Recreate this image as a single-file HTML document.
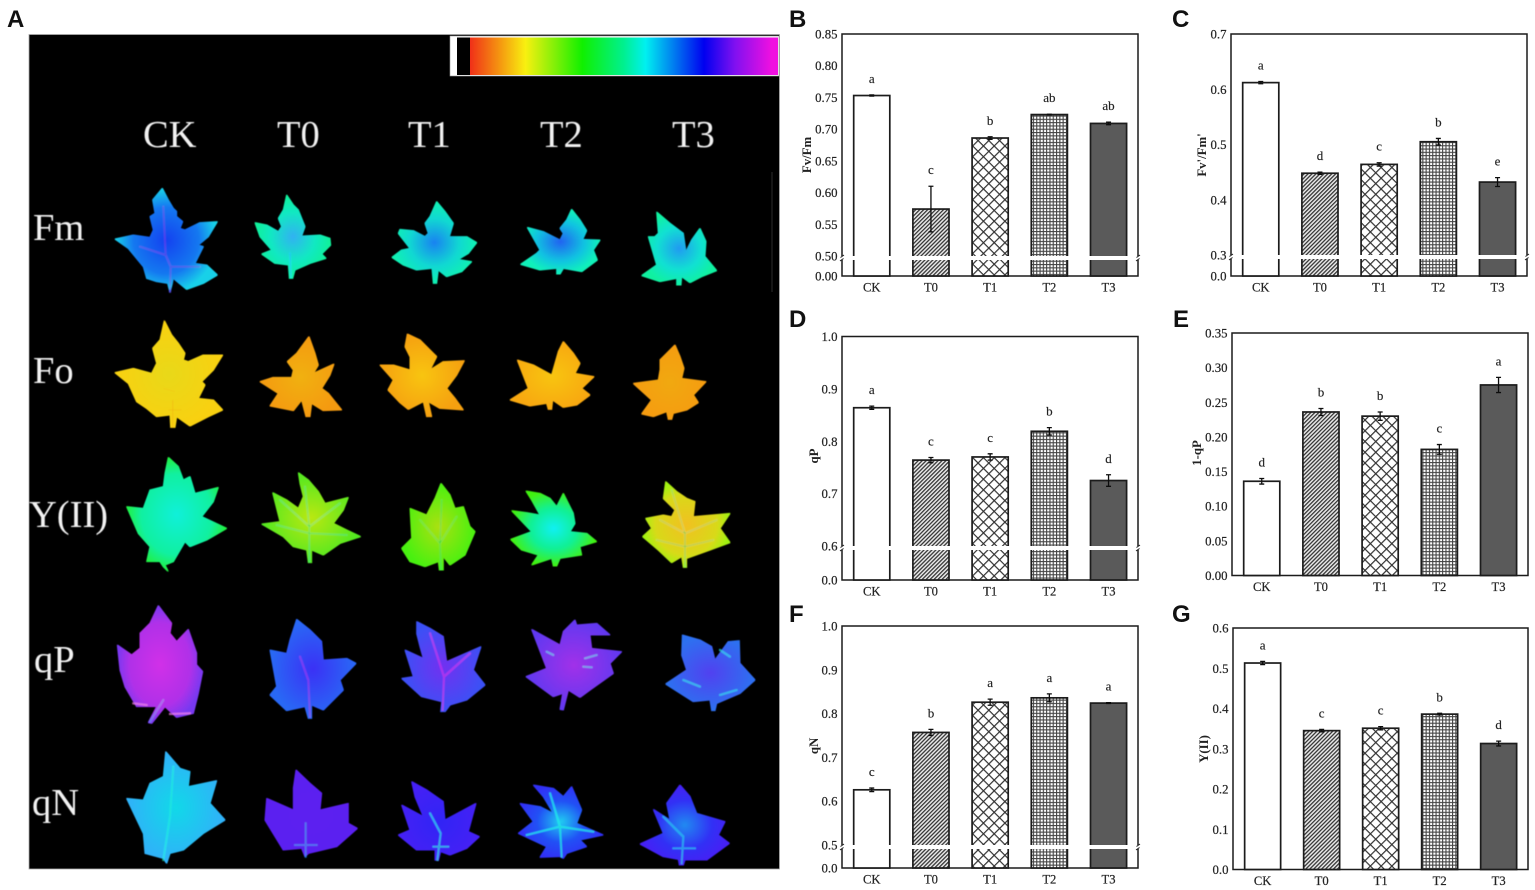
<!DOCTYPE html>
<html lang="en">
<head>
<meta charset="utf-8">
<title>Chlorophyll fluorescence images and parameters</title>
<style>
html,body{margin:0;padding:0;background:#fff;width:1535px;height:890px;overflow:hidden}
svg{display:block}
text{font-family:"Liberation Serif",serif}
.plabel{font-family:"Liberation Sans",sans-serif;font-weight:700;font-size:24px;fill:#111}
.ilabel{font-size:38.5px;fill:#f2f2f2;filter:url(#soft)}
.tick{font-size:12.8px;fill:#222;stroke:#222;stroke-width:.2}
.cat{font-size:12.6px;fill:#222;text-anchor:middle;stroke:#222;stroke-width:.2}
.sig{font-size:13px;fill:#222;text-anchor:middle;stroke:#222;stroke-width:.15}
.ytitle{font-size:12.8px;font-weight:700;fill:#222;text-anchor:middle}
.vein{fill:none;stroke-width:4;stroke-linecap:round;stroke-opacity:.7}
</style>
</head>
<body>
<svg id="figure" xmlns="http://www.w3.org/2000/svg" width="1535" height="890" viewBox="0 0 1535 890">
<defs>
<filter id="soft" x="-10%" y="-10%" width="120%" height="120%"><feGaussianBlur stdDeviation="0.45"/></filter>
<filter id="soft2" x="-2%" y="-2%" width="104%" height="104%"><feGaussianBlur stdDeviation="0.3"/></filter>
<filter id="leaf" x="-2%" y="-2%" width="104%" height="104%" color-interpolation-filters="sRGB">
<feMorphology in="SourceGraphic" operator="dilate" radius="0.6" result="fat"/>
<feGaussianBlur in="fat" stdDeviation="0.55"/>
</filter>
<pattern id="hatch-t0" patternUnits="userSpaceOnUse" width="2.8" height="2.8" patternTransform="rotate(-45)"><rect width="2.8" height="2.8" fill="#e8e8e8"/><rect width="2.8" height="1.25" fill="#333"/></pattern>
<pattern id="hatch-t1" patternUnits="userSpaceOnUse" width="7.6" height="7.6" patternTransform="rotate(45)"><rect width="7.6" height="7.6" fill="#fff"/><rect width="7.6" height="1.2" fill="#333"/><rect width="1.2" height="7.6" fill="#333"/></pattern>
<pattern id="hatch-t2" patternUnits="userSpaceOnUse" width="3.3" height="3.3"><rect width="3.3" height="3.3" fill="#fff"/><rect width="3.3" height="1.1" fill="#444"/><rect width="1.1" height="3.3" fill="#444"/></pattern>
<linearGradient id="colorbar-gradient" x1="0" x2="1" y1="0" y2="0">
<stop offset="0" stop-color="#f03018"/><stop offset="0.1" stop-color="#f59a10"/><stop offset="0.18" stop-color="#f8f010"/><stop offset="0.365" stop-color="#10f000"/><stop offset="0.5" stop-color="#00f090"/><stop offset="0.57" stop-color="#00f0f0"/><stop offset="0.76" stop-color="#0000f0"/><stop offset="0.86" stop-color="#8010f0"/><stop offset="0.98" stop-color="#f010e0"/><stop offset="1" stop-color="#f010e0"/>
</linearGradient>
<radialGradient id="g-fm-ck"><stop offset="0" stop-color="#1440f0"/><stop offset="0.65" stop-color="#1478f0"/><stop offset="1" stop-color="#18d0e8"/></radialGradient>
<radialGradient id="g-fm-t0"><stop offset="0" stop-color="#30b0f0"/><stop offset="0.6" stop-color="#10e8c0"/><stop offset="1" stop-color="#10f098"/></radialGradient>
<radialGradient id="g-fm-t1"><stop offset="0" stop-color="#1880f0"/><stop offset="0.6" stop-color="#10d8d0"/><stop offset="1" stop-color="#10f0b0"/></radialGradient>
<radialGradient id="g-fm-t2"><stop offset="0" stop-color="#2060f0"/><stop offset="0.6" stop-color="#10c0e0"/><stop offset="1" stop-color="#10f0b8"/></radialGradient>
<radialGradient id="g-fm-t3"><stop offset="0" stop-color="#2098f0"/><stop offset="0.6" stop-color="#10e0d0"/><stop offset="1" stop-color="#10f0a0"/></radialGradient>
<radialGradient id="g-fo-ck"><stop offset="0" stop-color="#e8d818"/><stop offset="1" stop-color="#f8d010"/></radialGradient>
<radialGradient id="g-fo-t0"><stop offset="0" stop-color="#f0b010"/><stop offset="1" stop-color="#f49a10"/></radialGradient>
<radialGradient id="g-fo-t1"><stop offset="0" stop-color="#f8c410"/><stop offset="1" stop-color="#f5a010"/></radialGradient>
<radialGradient id="g-fo-t2"><stop offset="0" stop-color="#f8c410"/><stop offset="1" stop-color="#f8a810"/></radialGradient>
<radialGradient id="g-fo-t3"><stop offset="0" stop-color="#f0a810"/><stop offset="1" stop-color="#f59c10"/></radialGradient>
<radialGradient id="g-y-ck"><stop offset="0" stop-color="#10f0d8"/><stop offset="0.7" stop-color="#10f0a0"/><stop offset="1" stop-color="#20f040"/></radialGradient>
<radialGradient id="g-y-t0"><stop offset="0" stop-color="#b8e810"/><stop offset="1" stop-color="#50e820"/></radialGradient>
<radialGradient id="g-y-t1"><stop offset="0" stop-color="#a8e010"/><stop offset="1" stop-color="#48f010"/></radialGradient>
<radialGradient id="g-y-t2"><stop offset="0" stop-color="#10f0f0"/><stop offset="0.55" stop-color="#10f090"/><stop offset="1" stop-color="#40f010"/></radialGradient>
<radialGradient id="g-y-t3"><stop offset="0" stop-color="#f0c020"/><stop offset="0.7" stop-color="#d8d818"/><stop offset="1" stop-color="#a0f010"/></radialGradient>
<radialGradient id="g-qp-ck"><stop offset="0" stop-color="#d030e8"/><stop offset="0.7" stop-color="#b030e8"/><stop offset="1" stop-color="#7838f0"/></radialGradient>
<radialGradient id="g-qp-t0"><stop offset="0" stop-color="#3a30f5"/><stop offset="1" stop-color="#2868f5"/></radialGradient>
<radialGradient id="g-qp-t1"><stop offset="0" stop-color="#7030f0"/><stop offset="1" stop-color="#3a50f5"/></radialGradient>
<radialGradient id="g-qp-t2"><stop offset="0" stop-color="#a030e8"/><stop offset="1" stop-color="#6038f0"/></radialGradient>
<radialGradient id="g-qp-t3"><stop offset="0" stop-color="#5040f0"/><stop offset="1" stop-color="#2c70f0"/></radialGradient>
<radialGradient id="g-qn-ck"><stop offset="0" stop-color="#10d8e8"/><stop offset="1" stop-color="#30b0f8"/></radialGradient>
<radialGradient id="g-qn-t0"><stop offset="0" stop-color="#5c20f0"/><stop offset="1" stop-color="#5a20f0"/></radialGradient>
<radialGradient id="g-qn-t1"><stop offset="0" stop-color="#3024f5"/><stop offset="1" stop-color="#4420f5"/></radialGradient>
<radialGradient id="g-qn-t2"><stop offset="0" stop-color="#20c8f0"/><stop offset="0.55" stop-color="#2050f5"/><stop offset="1" stop-color="#3030f5"/></radialGradient>
<radialGradient id="g-qn-t3"><stop offset="0" stop-color="#2088f0"/><stop offset="0.6" stop-color="#3030f5"/><stop offset="1" stop-color="#4420f5"/></radialGradient>
</defs>

<rect width="1535" height="890" fill="#fff"/>

<g id="panel-a">
<rect x="29" y="34.5" width="750.5" height="834.5" fill="#000" stroke="#aaa" stroke-width="0.8"/>
<rect x="450" y="36" width="329" height="40" fill="#fff" stroke="#999" stroke-width="0.6"/>
<rect x="457" y="37.5" width="14" height="37.5" fill="#000"/>
<rect x="470" y="37.5" width="308" height="37.5" fill="url(#colorbar-gradient)"/>
<rect x="771.5" y="172" width="1" height="120" fill="#2c2c2c"/>

<g>
<text class="ilabel" x="143" y="147">CK</text>
<text class="ilabel" x="277" y="147">T0</text>
<text class="ilabel" x="408" y="147">T1</text>
<text class="ilabel" x="540" y="147">T2</text>
<text class="ilabel" x="672" y="147">T3</text>
</g>
<g>
<text class="ilabel" x="33" y="240">Fm</text>
<text class="ilabel" x="33" y="383">Fo</text>
<text class="ilabel" x="29" y="527">Y(II)</text>
<text class="ilabel" x="34" y="672">qP</text>
<text class="ilabel" x="32" y="815">qN</text>
</g>

<g filter="url(#leaf)">
<g transform="scale(0.33333)">
<g><polygon fill="url(#g-fm-ck)" points="487,565 505,600 520,625 530,635 530,650 548,665 540,685 555,690 600,668 652,665 625,710 595,735 610,740 585,790 620,795 652,825 610,850 560,868 520,835 517,850 510,878 503,850 470,845 440,835 430,800 385,745 345,717 400,705 450,712 460,690 450,650 465,640 458,600"/><path class="vein" stroke="#6028e0" d="M510,875L512,800L497,765L490,620M512,800L600,800M497,765L420,740"/></g>
<g><polygon fill="url(#g-fm-t0)" points="860,585 880,615 895,630 915,680 905,708 960,705 990,715 992,735 965,762 978,775 930,790 885,810 878,835 868,835 865,795 825,790 785,762 815,750 780,710 765,668 800,675 835,695 845,680 835,655 850,630"/><path class="vein" stroke="#2090f0" d="M873,832L870,760"/></g>
</g>
<g transform="translate(400,20) scale(0.33333)">
<g><polygon fill="url(#g-fm-t1)" points="110,545 135,575 160,610 148,650 200,650 230,668 205,700 175,718 215,725 185,755 140,770 115,750 110,790 100,790 96,745 50,750 10,735 -24,712 5,690 30,685 -5,640 0,628 40,632 75,650 85,640 75,610 90,590"/></g>
<g><polygon fill="url(#g-fm-t2)" points="515,568 540,600 560,632 548,658 600,660 580,690 592,720 545,755 490,745 480,762 470,762 470,745 420,750 362,733 410,700 420,690 382,622 430,635 480,660 490,640 480,625 500,600"/></g>
<g><polygon fill="url(#g-fm-t3)" points="770,576 810,610 850,640 858,695 875,660 900,625 918,665 915,710 950,752 905,770 870,788 845,770 843,795 830,795 830,775 780,785 725,767 770,735 745,650 765,650 775,640"/></g>
</g>
<g transform="translate(0,320) scale(0.33333)">
<g><polygon fill="url(#g-fo-ck)" points="493,2 515,45 535,70 555,100 550,120 565,125 610,105 668,105 640,150 605,185 615,195 595,235 640,240 668,270 625,290 570,318 530,290 525,322 512,322 510,285 470,290 440,265 410,245 385,190 345,158 400,145 455,160 470,130 458,85 480,60"/><path class="vein" stroke="#f09010" d="M518,320L518,240M505,270L545,270M490,205L525,215"/></g>
<g><polygon fill="url(#g-fo-t0)" points="927,50 945,100 955,135 940,160 1002,132 990,165 965,205 985,220 1025,270 970,272 935,250 930,290 918,290 905,240 880,272 810,258 835,220 780,185 820,172 875,172 880,150 862,125 890,100"/></g>
<g><polygon fill="url(#g-y-ck)" points="505,412 535,440 550,480 570,470 585,520 655,502 640,545 605,590 680,625 620,660 570,680 555,665 520,725 495,735 505,755 490,740 480,725 440,725 450,680 415,640 380,560 430,565 450,510 490,500 495,460"/></g>
<g><polygon fill="url(#g-y-t0)" points="895,458 925,480 955,515 975,550 1045,532 1030,570 1000,610 1040,630 1082,650 1020,670 970,705 935,690 935,728 925,728 920,690 880,680 850,650 785,612 840,605 818,518 860,540 895,565 910,530 900,490"/><path class="vein" stroke="#20e070" d="M928,725L928,620L915,500M928,620L1020,550M928,620L840,540M928,640L830,615M928,640L1040,645"/></g>
</g>
<g transform="translate(400,320) scale(0.33333)">
<g><polygon fill="url(#g-fo-t1)" points="22,42 60,60 100,100 110,110 90,150 130,125 193,122 170,165 140,205 165,235 190,270 120,265 85,245 95,290 80,290 70,245 25,268 0,248 -36,210 -20,180 -60,135 -20,135 30,150 30,110 15,80"/></g>
<g><polygon fill="url(#g-fo-t2)" points="490,65 520,100 540,130 525,160 582,170 545,205 570,225 530,255 490,262 458,240 455,268 445,268 440,250 390,258 330,240 385,205 352,120 400,135 455,165 465,130 475,95"/></g>
<g><polygon fill="url(#g-fo-t3)" points="825,75 840,110 852,145 845,175 918,185 880,225 895,248 860,270 820,280 815,298 805,298 800,275 760,290 725,282 755,240 700,190 775,180 780,150 780,120 800,100"/></g>
<g><polygon fill="url(#g-y-t1)" points="123,490 150,525 165,565 190,560 210,620 225,635 195,705 150,735 130,710 130,750 118,750 115,725 75,740 30,725 5,685 35,655 30,565 80,585 105,535"/><path class="vein" stroke="#20d850" d="M123,748L120,670L125,540M120,670L60,600M120,670L170,590"/></g>
<g><polygon fill="url(#g-y-t2)" points="378,513 420,520 450,535 470,560 490,520 520,580 525,610 510,635 560,640 590,665 540,680 545,705 480,715 470,738 460,738 455,715 395,735 415,705 365,690 332,658 395,635 335,572 380,578 420,585 395,540"/></g>
<g><polygon fill="url(#g-y-t3)" points="797,485 830,515 860,535 885,545 880,590 990,580 960,625 990,668 930,690 860,715 860,742 850,742 845,710 815,728 775,690 728,650 755,625 737,595 790,585 815,590 825,570 790,535"/><path class="vein" stroke="#20d060" d="M855,740L855,640L815,510M855,640L950,600M855,640L780,600M855,680L940,660M855,680L770,660"/></g>
</g>
<g transform="translate(0,590) scale(0.33333)">
<g><polygon fill="url(#g-qp-ck)" points="475,47 515,100 510,130 530,155 565,118 590,190 590,225 608,245 595,310 580,370 530,382 495,350 455,400 445,398 470,350 410,350 375,290 360,240 352,165 395,195 420,175 420,130 450,100"/><path class="vein" stroke="#f080e0" d="M510,372L570,370M400,340L440,345"/><path class="vein" stroke="#4080f0" d="M450,395L490,330"/></g>
<g><polygon fill="url(#g-qp-t0)" points="890,88 930,120 965,155 970,210 1040,205 1068,220 1020,270 1030,300 970,360 935,345 935,385 925,385 915,350 860,362 810,315 830,290 810,180 860,190 870,150"/><path class="vein" stroke="#9030e0" d="M930,380L925,270L900,200"/></g>
<g><polygon fill="url(#g-qn-ck)" points="497,485 540,535 570,545 565,590 650,572 630,640 675,690 610,730 550,780 510,790 500,820 490,805 435,790 430,730 380,625 430,630 450,580 490,560"/><path class="vein" stroke="#20e8a0" d="M490,810L510,680L520,530"/></g>
<g><polygon fill="url(#g-qn-t0)" points="888,540 930,580 965,610 960,660 1045,640 1045,700 1072,715 1010,770 925,790 915,800 905,775 850,780 795,690 800,625 880,660 880,595"/><path class="vein" stroke="#2090f0" d="M917,800L917,700M885,765L950,765"/></g>
</g>
<g transform="translate(400,590) scale(0.33333)">
<g><polygon fill="url(#g-qp-t1)" points="50,95 90,115 130,140 140,215 243,170 220,240 255,285 200,330 150,345 135,365 122,365 125,335 65,320 5,265 40,260 15,180 70,205 60,170 50,130"/><path class="vein" stroke="#c030d8" d="M128,360L132,260L90,130M132,260L210,190"/></g>
<g><polygon fill="url(#g-qp-t2)" points="525,90 530,105 590,100 630,135 570,135 575,175 665,185 630,220 640,250 570,300 540,322 505,300 490,360 480,358 488,310 460,320 378,260 440,235 395,118 480,165 490,125"/><path class="vein" stroke="#20c0e8" d="M555,205L590,195M550,230L575,232M440,185L460,195"/></g>
<g><polygon fill="url(#g-qp-t3)" points="847,135 900,150 935,170 945,210 985,155 1018,152 1020,220 1065,270 1020,310 950,340 945,362 935,362 930,330 880,335 797,282 860,240 845,195"/><path class="vein" stroke="#20d0e0" d="M850,270L900,290M960,180L990,200M960,315L1010,300"/></g>
<g><polygon fill="url(#g-qn-t1)" points="35,575 80,600 130,635 135,690 228,640 205,725 238,740 200,775 150,795 122,785 115,812 105,810 105,780 50,780 -5,735 30,720 5,645 70,680 45,620"/><path class="vein" stroke="#20d8b0" d="M112,810L122,730L90,670M100,770L145,770"/></g>
<g><polygon fill="url(#g-qn-t2)" points="400,585 460,595 490,620 515,590 545,660 530,700 610,735 540,750 560,770 500,790 490,805 480,800 420,802 440,770 355,730 400,695 360,640 420,650 460,670 430,620"/><path class="vein" stroke="#20f0a0" d="M485,800L480,710L450,610M480,710L380,735M480,710L580,725"/></g>
<g><polygon fill="url(#g-qn-t3)" points="840,585 870,620 890,670 975,695 955,735 988,760 920,810 855,810 850,825 838,825 835,808 790,800 720,762 790,730 760,658 810,690 800,640"/><path class="vein" stroke="#20c0e0" d="M845,820L850,740L790,680M820,775L885,775"/></g>
</g>
</g>
</g>

<text class="plabel" x="7" y="27">A</text>
<text class="plabel" x="789" y="27">B</text>
<text class="plabel" x="1172" y="27">C</text>
<text class="plabel" x="789" y="327">D</text>
<text class="plabel" x="1173" y="327">E</text>
<text class="plabel" x="789" y="622">F</text>
<text class="plabel" x="1172" y="622">G</text>

<g id="charts" filter="url(#soft2)"></g>
</svg>

<script>
const categories = ['CK', 'T0', 'T1', 'T2', 'T3'];

const fvFmValues = [0.753, 0.574, 0.686, 0.723, 0.709];
const fvFmErrors = [0.001, 0.036, 0.002, 0.0005, 0.002];
const fvFmLetters = ['a', 'c', 'b', 'ab', 'ab'];
const fvFmTicks = ['0.00', '0.50', '0.55', '0.60', '0.65', '0.70', '0.75', '0.80', '0.85'];

const fvPrimeValues = [0.612, 0.448, 0.464, 0.505, 0.432];
const fvPrimeErrors = [0.002, 0.002, 0.003, 0.006, 0.008];
const fvPrimeLetters = ['a', 'd', 'c', 'b', 'e'];
const fvPrimeTicks = ['0.0', '0.3', '0.4', '0.5', '0.6', '0.7'];

const qPValues = [0.864, 0.764, 0.77, 0.819, 0.725];
const qPErrors = [0.003, 0.005, 0.006, 0.007, 0.011];
const qPLetters = ['a', 'c', 'c', 'b', 'd'];
const qPTicks = ['0.0', '0.6', '0.7', '0.8', '0.9', '1.0'];

const oneMinusQPValues = [0.136, 0.236, 0.23, 0.182, 0.275];
const oneMinusQPErrors = [0.004, 0.005, 0.006, 0.007, 0.011];
const oneMinusQPLetters = ['d', 'b', 'b', 'c', 'a'];
const oneMinusQPTicks = ['0.00', '0.05', '0.10', '0.15', '0.20', '0.25', '0.30', '0.35'];

const qNValues = [0.626, 0.757, 0.826, 0.836, 0.824];
const qNErrors = [0.004, 0.007, 0.007, 0.009, 0.001];
const qNLetters = ['c', 'b', 'a', 'a', 'a'];
const qNTicks = ['0.0', '0.5', '0.6', '0.7', '0.8', '0.9', '1.0'];

const yIIValues = [0.513, 0.345, 0.351, 0.386, 0.313];
const yIIErrors = [0.004, 0.003, 0.004, 0.002, 0.006];
const yIILetters = ['a', 'c', 'c', 'b', 'd'];
const yIITicks = ['0.0', '0.1', '0.2', '0.3', '0.4', '0.5', '0.6'];

const barFills = ['#fff', 'url(#hatch-t0)', 'url(#hatch-t1)', 'url(#hatch-t2)', '#5a5a5a'];
const INK = '#1c1c1c';
const NS = 'http://www.w3.org/2000/svg';
const root = document.getElementById('charts');

function makeEl(tag, attrs, parent) {
  const el = document.createElementNS(NS, tag);
  Object.keys(attrs).forEach(function (k) { el.setAttribute(k, attrs[k]); });
  parent.appendChild(el);
  return el;
}

function drawPanel(p) {
  const g = makeEl('g', {}, root);
  
  

  const numericTicks = p.ticks.map(Number);
  const yMax = Math.max.apply(null, numericTicks);
  const breakMin = p.breakY === null ? 0 : numericTicks[1];
  const yScale = function (v) {
    if (p.breakY !== null && v < breakMin) {
      return p.bottom - (v / breakMin) * (p.bottom - p.breakY);
    }
    const base = p.breakY === null ? p.bottom : p.breakY;
    return base - ((v - breakMin) / (yMax - breakMin)) * (base - p.top);
  };
  const width = p.right - p.left;
  const xLeft = function (i) { return p.left + 0.0395 * width + i * 0.2 * width; };
  const barW = 0.122 * width;

  const plot = makeEl('rect', { x: p.left, y: p.top, width: width, height: p.bottom - p.top, fill: 'none', stroke: INK, 'stroke-width': 1.5 }, g);
  
  

  categories.forEach(function (cat, i) {
    const yTop = yScale(p.values[i]);
    const bar = makeEl('rect', { x: xLeft(i), y: yTop, width: barW, height: p.bottom - yTop, fill: barFills[i], stroke: INK, 'stroke-width': 1.7 }, g);
    
    

    const cx = xLeft(i) + barW / 2;
    const hi = yScale(p.values[i] + p.errors[i]);
    const lo = yScale(p.values[i] - p.errors[i]);
    const err = makeEl('path', { d: 'M' + (cx - 2.5) + ',' + hi + 'H' + (cx + 2.5) + 'M' + cx + ',' + hi + 'V' + lo + 'M' + (cx - 2.5) + ',' + lo + 'H' + (cx + 2.5), fill: 'none', stroke: '#111', 'stroke-width': 1.3 }, g);
    
    

    const letter = makeEl('text', { class: 'sig', x: cx, y: hi - 12 }, g);
    letter.textContent = p.letters[i];
    
    

    const label = makeEl('text', { class: 'cat', x: cx, y: p.bottom + 15.5 }, g);
    label.textContent = cat;
    
    
  });

  if (p.breakY !== null) {
    const gap = makeEl('rect', { x: p.left - 1.5, y: p.breakY, width: width + 3, height: 4, fill: '#fff' }, g);
    
    
    [p.left, p.right].forEach(function (ax) {
      const z = makeEl('path', { d: 'M' + (ax + 2) + ',' + (p.breakY - 1) + 'L' + (ax - 1.5) + ',' + (p.breakY + 1.5) + 'M' + (ax + 1.5) + ',' + (p.breakY + 2.5) + 'L' + (ax - 2) + ',' + (p.breakY + 5), fill: 'none', stroke: INK, 'stroke-width': 1 }, g);
      
      
    });
  }

  p.ticks.forEach(function (t, i) {
    const tick = makeEl('text', { class: 'tick', 'text-anchor': 'end', x: p.left - 4.5, y: yScale(numericTicks[i]) + 4.5 }, g);
    tick.textContent = t;
    
    
  });

  const title = makeEl('text', { class: 'ytitle', transform: 'translate(' + (p.left + p.titleDx) + ',' + p.titleY + ') rotate(-90)' }, g);
  title.textContent = p.title;
  
  
}

drawPanel({ key: 'fv-fm', title: 'Fv/Fm', left: 842, right: 1138, top: 34, bottom: 276, breakY: 256, titleDx: -31, titleY: 155, ticks: fvFmTicks, values: fvFmValues, errors: fvFmErrors, letters: fvFmLetters });
drawPanel({ key: 'fv-prime', title: "Fv'/Fm'", left: 1231, right: 1527, top: 34, bottom: 276, breakY: 255, titleDx: -25, titleY: 155, ticks: fvPrimeTicks, values: fvPrimeValues, errors: fvPrimeErrors, letters: fvPrimeLetters });
drawPanel({ key: 'qp', title: 'qP', left: 842, right: 1138, top: 336.5, bottom: 580, breakY: 546, titleDx: -24, titleY: 456, ticks: qPTicks, values: qPValues, errors: qPErrors, letters: qPLetters });
drawPanel({ key: 'one-minus-qp', title: '1-qP', left: 1232, right: 1528, top: 333, bottom: 575.5, breakY: null, titleDx: -31, titleY: 453, ticks: oneMinusQPTicks, values: oneMinusQPValues, errors: oneMinusQPErrors, letters: oneMinusQPLetters });
drawPanel({ key: 'qn', title: 'qN', left: 842, right: 1138, top: 626, bottom: 868, breakY: 845, titleDx: -24, titleY: 746, ticks: qNTicks, values: qNValues, errors: qNErrors, letters: qNLetters });
drawPanel({ key: 'y-ii', title: 'Y(II)', left: 1233, right: 1528, top: 628, bottom: 869.5, breakY: null, titleDx: -25, titleY: 749, ticks: yIITicks, values: yIIValues, errors: yIIErrors, letters: yIILetters });
</script>
</body>
</html>
